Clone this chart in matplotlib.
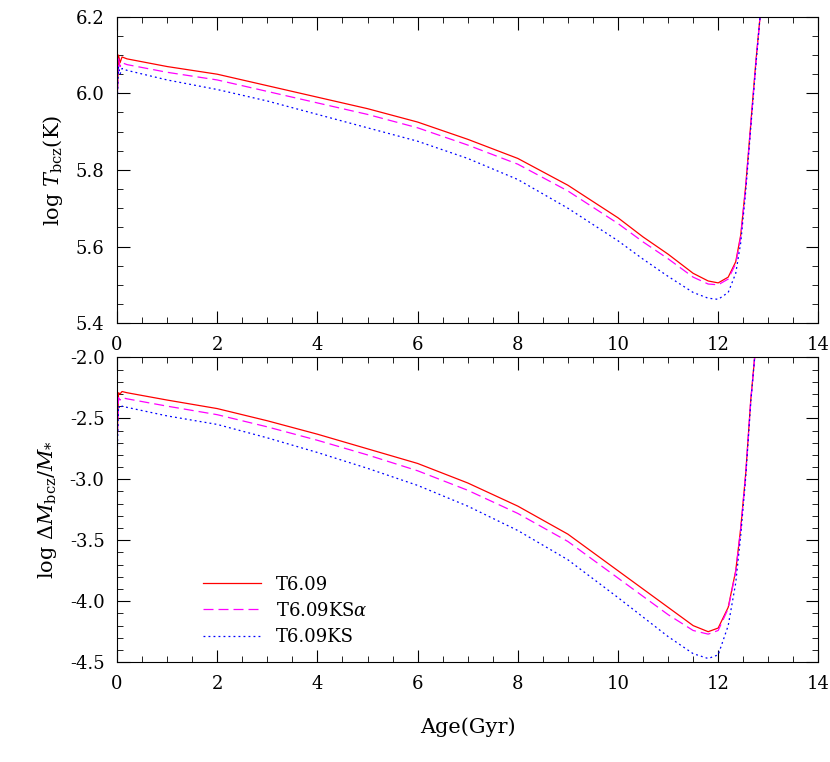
import matplotlib
matplotlib.use("Agg")
import matplotlib.pyplot as plt
from matplotlib.ticker import MultipleLocator

plt.rcParams["font.family"] = "DejaVu Serif"
plt.rcParams["mathtext.fontset"] = "dejavuserif"

age = [0.0, 0.03, 0.06, 0.1, 0.2, 1.0, 2.0, 3.0, 4.0, 5.0, 6.0, 7.0, 8.0, 9.0, 10.0, 10.5, 11.0, 11.5, 11.8, 12.0, 12.2, 12.35, 12.45, 12.55, 12.65, 12.75, 12.85]

t_red  = [5.97, 6.10, 6.08, 6.095, 6.09, 6.07, 6.05, 6.02, 5.99, 5.96, 5.925, 5.88, 5.83, 5.76, 5.675, 5.625, 5.58, 5.53, 5.51, 5.505, 5.52, 5.56, 5.63, 5.76, 5.92, 6.08, 6.22]
t_mag  = [5.97, 6.09, 6.07, 6.08, 6.075, 6.055, 6.035, 6.005, 5.975, 5.945, 5.91, 5.865, 5.815, 5.745, 5.66, 5.612, 5.568, 5.52, 5.502, 5.50, 5.515, 5.555, 5.625, 5.755, 5.915, 6.075, 6.22]
t_blue = [5.96, 6.07, 6.05, 6.065, 6.06, 6.035, 6.01, 5.98, 5.945, 5.91, 5.875, 5.83, 5.775, 5.70, 5.615, 5.567, 5.522, 5.48, 5.465, 5.462, 5.48, 5.53, 5.61, 5.745, 5.91, 6.07, 6.22]

m_red  = [-2.7, -2.29, -2.30, -2.28, -2.29, -2.35, -2.42, -2.52, -2.63, -2.75, -2.87, -3.03, -3.22, -3.45, -3.75, -3.90, -4.05, -4.20, -4.25, -4.22, -4.05, -3.75, -3.40, -2.95, -2.35, -1.9, -1.5]
m_mag  = [-2.75, -2.33, -2.35, -2.33, -2.34, -2.40, -2.47, -2.57, -2.68, -2.80, -2.93, -3.09, -3.28, -3.51, -3.81, -3.96, -4.11, -4.24, -4.27, -4.24, -4.06, -3.76, -3.41, -2.96, -2.36, -1.9, -1.5]
m_blue = [-2.85, -2.40, -2.42, -2.40, -2.41, -2.48, -2.55, -2.66, -2.78, -2.91, -3.05, -3.22, -3.42, -3.66, -3.97, -4.13, -4.29, -4.43, -4.47, -4.44, -4.20, -3.85, -3.46, -2.98, -2.37, -1.9, -1.5]

labels = ["T6.09", r"T6.09KS$\alpha$", "T6.09KS"]
colors = ["#ff0000", "#ff00ff", "#0000ff"]
styles = ["-", (0, (8, 4)), (0, (1.5, 2.5))]

fig = plt.figure(figsize=(8.3, 7.62), dpi=100)
ax1 = fig.add_axes([0.141, 0.576, 0.845, 0.402])
ax2 = fig.add_axes([0.141, 0.131, 0.845, 0.400])

for y, c, s, l in zip([t_red, t_mag, t_blue], colors, styles, labels):
    ax1.plot(age, y, color=c, ls=s, lw=0.9, label=l)
for y, c, s, l in zip([m_red, m_mag, m_blue], colors, styles, labels):
    ax2.plot(age, y, color=c, ls=s, lw=0.9, label=l)

ax1.set_xlim(0, 14); ax1.set_ylim(5.4, 6.2)
ax2.set_xlim(0, 14); ax2.set_ylim(-4.5, -2.0)
ax1.yaxis.set_major_locator(MultipleLocator(0.2)); ax1.yaxis.set_minor_locator(MultipleLocator(0.05))
ax2.yaxis.set_major_locator(MultipleLocator(0.5)); ax2.yaxis.set_minor_locator(MultipleLocator(0.1))
for ax in (ax1, ax2):
    ax.xaxis.set_major_locator(MultipleLocator(2)); ax.xaxis.set_minor_locator(MultipleLocator(0.5))
    ax.tick_params(which="both", direction="in", top=True, right=True, labelsize=13)
    ax.tick_params(which="major", length=9, pad=9)
    ax.tick_params(which="minor", length=4)
ax1.yaxis.set_major_formatter(matplotlib.ticker.FormatStrFormatter("%.1f"))
ax2.yaxis.set_major_formatter(matplotlib.ticker.FormatStrFormatter("%.1f"))

ax1.set_ylabel(r"$\log\,T_{\rm bcz}$(K)", fontsize=15, labelpad=8)
ax2.set_ylabel(r"$\log\,\Delta M_{\rm bcz}/M_{*}$", fontsize=15, labelpad=8)
ax2.set_xlabel("Age(Gyr)", fontsize=15, labelpad=18)
ax2.legend(loc="lower left", bbox_to_anchor=(0.1, 0.0), frameon=False, fontsize=13,
           handlelength=3.2, labelspacing=0.45)

fig.savefig("out.png", dpi=100)
